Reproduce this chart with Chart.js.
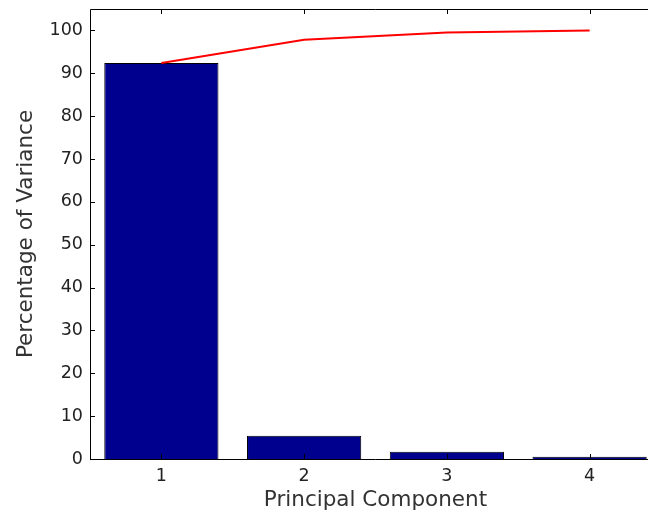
<!DOCTYPE html>
<html>
<head>
<meta charset="utf-8">
<script src="https://cdn.jsdelivr.net/npm/chart.js@4.4.1/dist/chart.umd.min.js"></script>
<style>
  html, body { margin: 0; padding: 0; background: #fff; overflow: hidden; }
  #wrap { width: 648px; height: 513px; overflow: hidden; }
</style>
</head>
<body>
<div id="wrap">
  <!-- canvas is a bit wider than the page so the axes run off the right edge -->
  <canvas id="chart" width="665" height="513"></canvas>
</div>
<script>
const components = ['1', '2', '3', '4'];
const variance = [92.4, 5.4, 1.7, 0.5];
const cumulative = [92.4, 97.8, 99.5, 100.0];
const yTicks = [0, 10, 20, 30, 40, 50, 60, 70, 80, 90, 100];

const FONT = "'DejaVu Sans', sans-serif";
const TICK_LEN = 5;

// matlab-like axes: left/top/bottom lines with inward ticks
const axesBox = {
  id: 'axesBox',
  afterDatasetsDraw(chart) {
    const { ctx, chartArea: a } = chart;
    const xs = chart.scales.x, ys = chart.scales.y;
    ctx.save();
    ctx.strokeStyle = '#000';
    ctx.lineWidth = 1;
    ctx.beginPath();
    ctx.moveTo(a.right, a.top + 0.5);
    ctx.lineTo(a.left + 0.5, a.top + 0.5);
    ctx.lineTo(a.left + 0.5, a.bottom + 0.5);
    ctx.lineTo(a.right, a.bottom + 0.5);
    yTicks.forEach(v => {
      const y = Math.round(ys.getPixelForValue(v)) + 0.5;
      ctx.moveTo(a.left, y);
      ctx.lineTo(a.left + TICK_LEN, y);
    });
    components.forEach((c, i) => {
      const x = Math.round(xs.getPixelForValue(i)) + 0.5;
      ctx.moveTo(x, a.bottom);
      ctx.lineTo(x, a.bottom - TICK_LEN);
      ctx.moveTo(x, a.top);
      ctx.lineTo(x, a.top + TICK_LEN);
    });
    ctx.stroke();
    ctx.restore();
  }
};

new Chart(document.getElementById('chart'), {
  data: {
    labels: components,
    datasets: [
      {
        type: 'line',
        data: cumulative,
        borderColor: '#ff0000',
        borderWidth: 2,
        pointRadius: 0,
        tension: 0,
        order: 0
      },
      {
        type: 'bar',
        data: variance,
        backgroundColor: '#00008f',
        borderColor: '#000',
        borderWidth: 1,
        categoryPercentage: 0.8,
        barPercentage: 1.0,
        order: 1
      }
    ]
  },
  options: {
    responsive: false,
    animation: false,
    layout: { padding: { top: 9, right: 4, left: 0, bottom: 0 } },
    plugins: {
      legend: { display: false },
      tooltip: { enabled: false }
    },
    scales: {
      x: {
        type: 'category',
        offset: true,
        grid: { display: false, drawTicks: false },
        border: { display: false },
        ticks: {
          color: '#222',
          padding: 7,
          font: { family: FONT, size: 17.5 }
        },
        title: {
          display: true,
          text: 'Principal Component',
          color: '#333',
          padding: { top: 0, bottom: 0 },
          font: { family: FONT, size: 21.5 }
        },
        afterFit(scale) {
          scale.height = 54;
          scale.paddingLeft = 0;
          scale.paddingRight = 0;
        }
      },
      y: {
        min: 0,
        max: 105,
        grid: { display: false, drawTicks: false },
        border: { display: false },
        ticks: {
          stepSize: 10,
          includeBounds: false,
          color: '#222',
          padding: 7,
          font: { family: FONT, size: 17.5 }
        },
        title: {
          display: true,
          text: 'Percentage of Variance',
          color: '#333',
          padding: { top: 14, bottom: 0 },
          font: { family: FONT, size: 21.5 }
        },
        afterFit(scale) {
          scale.width = 90;
          scale.paddingTop = 0;
          scale.paddingBottom = 0;
        }
      }
    }
  },
  plugins: [axesBox]
});
</script>
</body>
</html>
